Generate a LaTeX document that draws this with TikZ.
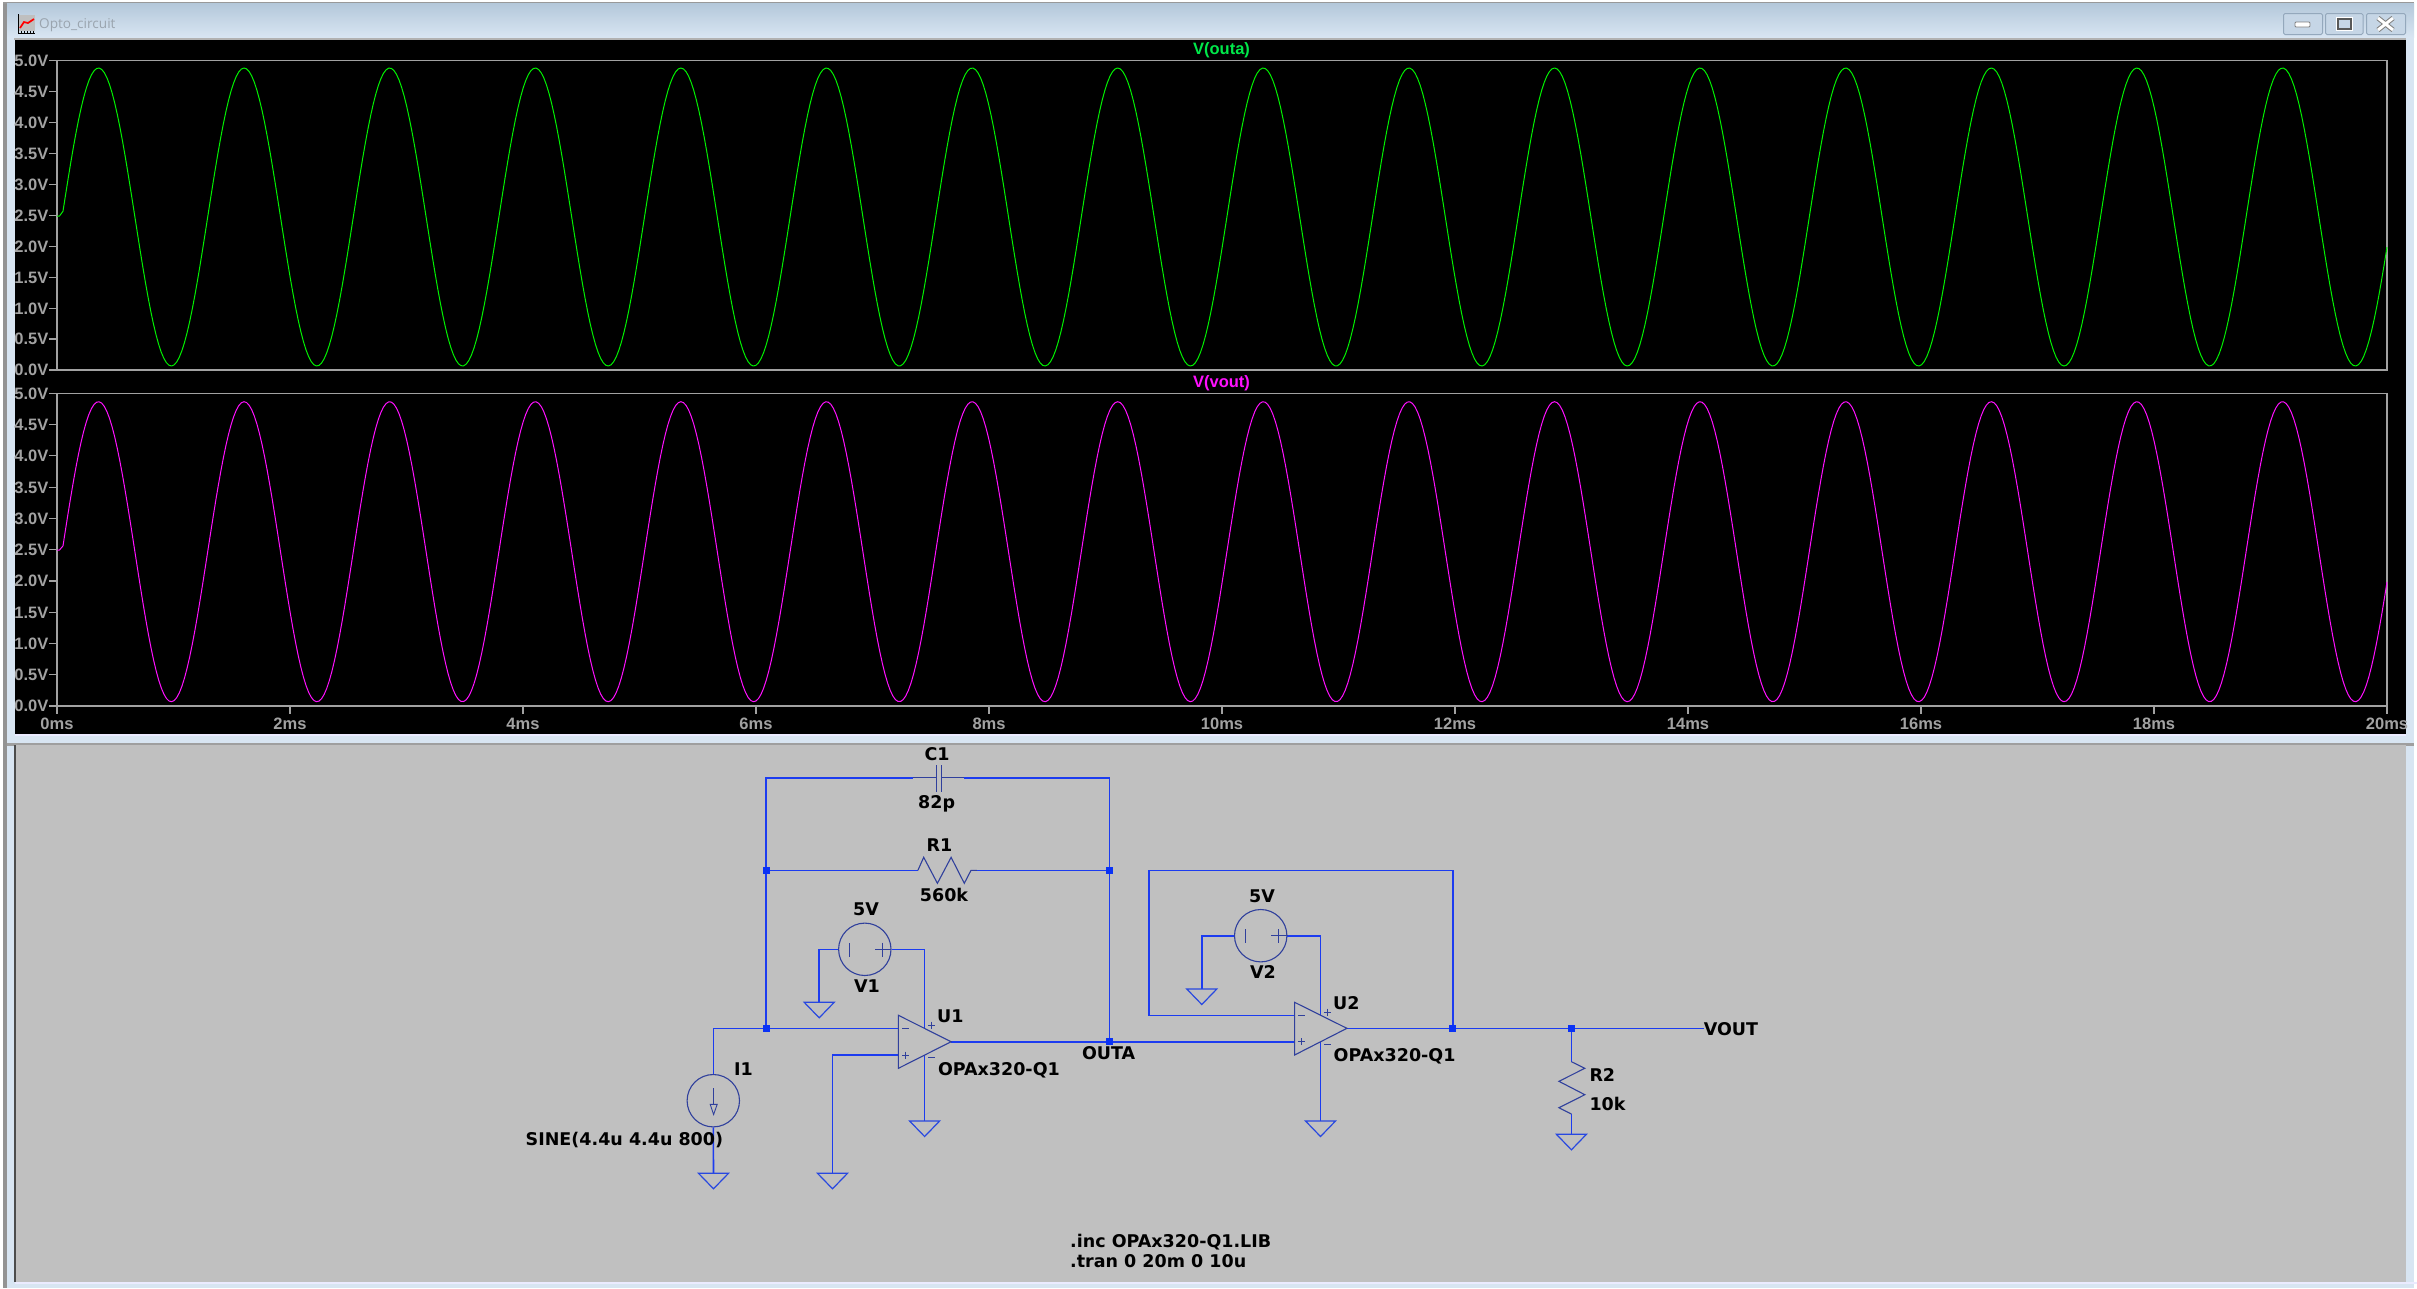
\documentclass[tikz,border=0pt]{standalone}
\usepackage{fontspec}
\setmainfont{DejaVu Sans}
\newfontfamily\axfont{Liberation Sans}
\newfontfamily\titlefont{Open Sans}
\usetikzlibrary{calc}
\definecolor{wirec}{HTML}{1C3CF0}
\definecolor{compc}{HTML}{30409C}
\definecolor{gndc}{HTML}{2848E0}
\definecolor{juncc}{HTML}{0A32F5}
\definecolor{bgc}{HTML}{C0C0C0}
\definecolor{framec}{HTML}{D8E5F2}
\definecolor{axisc}{HTML}{A2A2A2}
\definecolor{greenw}{HTML}{00F000}
\definecolor{magw}{HTML}{FF10FF}
\definecolor{titlec}{HTML}{B4C8DA}
\definecolor{btnfill}{HTML}{C6D6E6}
\definecolor{btnline}{HTML}{94A8BC}
\definecolor{titletext}{HTML}{9AA4AE}
\definecolor{greent}{HTML}{00E84A}
\tikzset{
  wire/.style={draw=wirec,line width=1.6pt},
  comp/.style={draw=compc,line width=1.1pt},
  gndsym/.style={draw=gndc,line width=1.2pt},
  jn/.style={fill=juncc,draw=none,minimum size=7pt,inner sep=0pt,rectangle},
  src/.style={comp,circle,minimum size=52.4pt,inner sep=0pt},
  lab/.style={inner sep=0pt,text height=12.8pt,text depth=0pt,font=\fontsize{17.5}{19}\selectfont\bfseries,text=black},
  axl/.style={inner sep=0pt,text height=11.8pt,text depth=0pt,font=\axfont\fontsize{16.5}{18}\selectfont\bfseries,text=axisc},
  axisline/.style={draw=axisc,line width=1.2pt},
  wave/.style={line width=1pt,line join=round},
  btn/.style={draw=btnline,fill=btnfill,rounded corners=1.5pt,line width=1pt},
}
\newcommand{\gndat}[1]{\draw[gndsym] ($(#1)+(-15,0)$) -- ($(#1)+(15,0)$) -- ($(#1)+(0,15.5)$) -- cycle;}
\newcommand{\markplus}[1]{\draw[comp,line width=0.9pt] ($(#1)+(-3.5,0)$) -- ($(#1)+(3.5,0)$) ($(#1)+(0,-3.5)$) -- ($(#1)+(0,3.5)$);}
\newcommand{\markminus}[1]{\draw[comp,line width=0.9pt] ($(#1)+(-3.5,0)$) -- ($(#1)+(3.5,0)$);}
\begin{document}
\begin{tikzpicture}[x=1pt,y=-1pt]
\useasboundingbox (0,0) rectangle (2417,1288);
% window chrome
\fill[white] (0,0) rectangle (2417,1288);
\fill[framec] (7,3) rectangle (2414,1288);
\fill[gray!85] (3,3) rectangle (7,1288);
\fill[gray!80] (3,2) rectangle (2414,3.5);
\shade[top color=titlec,bottom color=framec] (7,3.5) rectangle (2414,37);
\fill[black] (15,39) rectangle (2406,734);
\fill[white!92!blue] (15,734) rectangle (2406,736);
\fill[gray!75] (7,743) rectangle (2414,745.5);
\fill[bgc] (15,745) rectangle (2406,1282);
\fill[gray!60!black] (14,745) rectangle (16,1282);
\fill[white!92!blue] (15,1282) rectangle (2417,1284);
\fill[gray!60] (14,37.5) rectangle (2406,39.5);
% title
\fill[gray!50] (18,15) rectangle (35,31);
\draw[black,line width=1pt] (18,14) -- (18,33) -- (35,33);
\foreach \tk in {21,24,27,30,33} \draw[black,line width=0.8pt] (\tk,31) -- (\tk,33);
\draw[red,line width=1.7pt] (20,28) -- (24,22) -- (28,23) -- (34,19);
\node[inner sep=0pt,anchor=west,text=titletext,font=\titlefont\fontsize{13.6}{16}\selectfont] (wintitle) at (39,25) {Opto\_circuit};
% buttons
\draw[btn] (2283.5,13.5) rectangle (2322.5,34.5);
\draw[btn] (2325.5,13.5) rectangle (2363,34.5);
\draw[btn] (2366.5,13.5) rectangle (2405.5,34.5);
\draw[draw=gray,fill=white,line width=0.8pt,rounded corners=1pt] (2295,22) rectangle (2310,27);
\draw[draw=gray!70!black,line width=2pt] (2337.5,18.5) rectangle (2350.5,29);
\draw[white,line width=1pt] (2336,17) rectangle (2352,30.5);
\draw[gray,line width=5pt] (2378,18) -- (2393,30) (2393,18) -- (2378,30);
\draw[white,line width=3pt] (2378,18) -- (2393,30) (2393,18) -- (2378,30);
% plot frames
\draw[axisline] (57,60.7) rectangle (2387,370);
\draw[axisline] (57,393.3) rectangle (2387,706);
\foreach \n/\v in {0/5.0V,1/4.5V,2/4.0V,3/3.5V,4/3.0V,5/2.5V,6/2.0V,7/1.5V,8/1.0V,9/0.5V,10/0.0V}{
  \pgfmathsetmacro{\ya}{60.7+\n*30.93}
  \pgfmathsetmacro{\yb}{393.3+\n*31.27}
  \draw[axisline] (49,\ya) -- (57,\ya);
  \draw[axisline] (49,\yb) -- (57,\yb);
  \node[axl,anchor=east] (ya\n) at (48.5,\ya) {\v};
  \node[axl,anchor=east] (yb\n) at (48.5,\yb) {\v};
}
\foreach \n/\v in {0/0ms,1/2ms,2/4ms,3/6ms,4/8ms,5/10ms,6/12ms,7/14ms,8/16ms,9/18ms,10/20ms}{
  \pgfmathsetmacro{\xa}{57+\n*233}
  \draw[axisline] (\xa,706) -- (\xa,714);
  \node[axl] (xt\n) at (\xa,723.5) {\v};
}
\node[axl,text=greent] (titleA) at (1221.5,49) {V(outa)};
\node[axl,text=magw] (titleB) at (1221.5,382) {V(vout)};
% waveforms
\draw[wave,greenw] (57,216) -- (59.5,216) -- plot[domain=63:2387,samples=900] ({\x},{217-149*sin(2.47253*(\x-62.1))});
\draw[wave,magw] (57,550) -- (59.5,550) -- plot[domain=63:2387,samples=900] ({\x},{551.7-150*sin(2.47253*(\x-62.1))});
% ---------- schematic coordinates ----------
\node[jn] (jA) at (766.2,870.3) {};
\node[jn] (jB) at (766.2,1028.3) {};
\node[jn] (jC) at (1109.5,870.3) {};
\node[jn] (jD) at (1109.5,1041.7) {};
\node[jn] (jE) at (1452.7,1028.3) {};
\node[jn] (jF) at (1571.4,1028.3) {};
\coordinate (ctl) at (766.2,777.7);
\coordinate (ctr) at (1109.5,777.7);
\coordinate (cl) at (912.5,777.7);
\coordinate (cr) at (963.5,777.7);
\coordinate (pl) at (936.1,777.7);
\coordinate (pr) at (941.1,777.7);
\coordinate (rl) at (917.9,870.3);
\coordinate (rr) at (976.8,870.3);
% U1
\coordinate (u1a) at (898.4,1015.3);
\coordinate (u1b) at (898.4,1068.3);
\coordinate (u1o) at (951.1,1041.7);
\coordinate (u1m) at (898.4,1028.3);
\coordinate (u1p) at (898.4,1055);
\coordinate (u1t) at (924.6,1028.4);
\coordinate (u1d) at (924.6,1055);
\coordinate (g1) at (924.6,1121);
% U2
\coordinate (u2a) at (1294.6,1002.3);
\coordinate (u2b) at (1294.6,1055);
\coordinate (u2o) at (1346.9,1028.3);
\coordinate (u2m) at (1294.6,1015.3);
\coordinate (u2p) at (1294.6,1041.7);
\coordinate (u2t) at (1320.5,1015.2);
\coordinate (u2d) at (1320.5,1041.6);
\coordinate (g2) at (1320.5,1121);
% sources
\node[src] (V1) at (864.8,949.3) {};
\node[src] (V2) at (1260.7,935.7) {};
\node[src] (I1) at (713.3,1100.7) {};
\coordinate (gV1) at (819.2,1002.3);
\coordinate (gV2) at (1201.8,989);
\coordinate (gI1) at (713.5,1173.3);
\coordinate (gP1) at (832.5,1173.3);
\coordinate (gR2) at (1571.4,1134.3);
\coordinate (m2c) at (1149.1,1015.3);
\coordinate (fbt) at (1149.1,870.3);
\coordinate (fbr) at (1452.7,870.3);
\coordinate (voutend) at (1703.6,1028.3);
\coordinate (r2t) at (1571.4,1061.7);
\coordinate (r2b) at (1571.4,1114);
% ---------- wires ----------
\draw[wire] (jA) -- (ctl) -- (cl);
\draw[wire] (cr) -- (ctr) -- (jC);
\draw[wire] (jA) -- (jB);
\draw[wire] (jA) -- (rl);
\draw[wire] (rr) -- (jC);
\draw[wire] (jC) -- (jD);
\draw[wire] (I1.north) -- (I1.north |- jB) -- (jB);
\draw[wire] (jB) -- (u1m);
\draw[wire] (u1o) -- (jD) -- (u2p);
\draw[wire] (u1p) -| (gP1);
\draw[wire] (V1.west) -| (gV1);
\draw[wire] (V1.east) -| (u1t);
\draw[wire] (u1d) -- (g1);
\draw[wire] (I1.south) -- (gI1);
\draw[wire] (u2m) -- (m2c) -- (fbt) -- (fbr) -- (jE);
\draw[wire] (V2.west) -| (gV2);
\draw[wire] (V2.east) -| (u2t);
\draw[wire] (u2d) -- (g2);
\draw[wire] (u2o) -- (jE) -- (jF) -- (voutend);
\draw[wire] (jF) -- (r2t);
\draw[wire] (r2b) -- (gR2);
% grounds
\gndat{gV1}\gndat{gV2}\gndat{gI1}\gndat{gP1}\gndat{g1}\gndat{g2}\gndat{gR2}
% capacitor
\draw[comp] (cl) -- (pl) (pr) -- (cr);
\draw[comp] ($(pl)+(0,-12.7)$) -- ($(pl)+(0,14)$);
\draw[comp] ($(pr)+(0,-12.7)$) -- ($(pr)+(0,14)$);
% R1
\draw[comp] (rl) -- (923.7,857.3) -- (937.4,883.3) -- (951.1,857.3) -- (964.3,883.3) -- (971,870.3) -- (rr);
% R2
\draw[comp] (r2t) -- (1584.8,1068.3) -- (1558.9,1081.3) -- (1584.8,1094.7) -- (1558.9,1107.7) -- (r2b);
% op amps
\draw[comp] (u1a) -- (u1b) -- (u1o) -- cycle;
\draw[comp] (u2a) -- (u2b) -- (u2o) -- cycle;
\markminus{905.5,1028.3}\markplus{905.5,1055}\markplus{931.6,1025}\markminus{931.6,1057.7}
\markminus{1301.3,1015.3}\markplus{1301.3,1041.7}\markplus{1327.7,1012}\markminus{1327.7,1044.3}
% source marks
\draw[comp,line width=0.9pt] (849.5,943) -- (849.5,956.5) (875.2,949.3) -- (890.6,949.3) (882.3,942.5) -- (882.3,956.5);
\draw[comp,line width=0.9pt] (1245.5,929) -- (1245.5,942.5) (1271,935.7) -- (1288,935.7) (1278.3,929) -- (1278.3,942.5);
\draw[comp,line width=0.9pt] (713.5,1088.3) -- (713.5,1104.3);
\draw[comp,line width=0.9pt] (710.2,1104.3) -- (717.2,1104.3) -- (713.6,1114.5) -- cycle;
% labels
\node[lab] (tC1) at (937,754) {C1};
\node[lab] (t82p) at (936.6,802) {82p};
\node[lab] (tR1) at (939.5,845) {R1};
\node[lab] (t560k) at (944,895) {560k};
\node[lab] (t5V1) at (866,909) {5V};
\node[lab] (tV1) at (867,985.7) {V1};
\node[lab] (tU1) at (950.3,1015.7) {U1};
\node[lab,anchor=west] (tOP1) at (937.8,1068.8) {OPAx320-Q1};
\node[lab] (tOUTA) at (1108.6,1053.3) {OUTA};
\node[lab] (tI1) at (743.4,1068.7) {I1};
\node[lab] (tSINE) at (624.4,1139.5) {SINE(4.4u 4.4u 800)};
\node[lab] (t5V2) at (1262,895.7) {5V};
\node[lab] (tV2) at (1263,972.3) {V2};
\node[lab] (tU2) at (1346.4,1002.7) {U2};
\node[lab,anchor=west] (tOP2) at (1333.5,1055.3) {OPAx320-Q1};
\node[lab,anchor=west] (tVOUT) at (1703.6,1028.7) {VOUT};
\node[lab,anchor=west] (tR2) at (1589.3,1075) {R2};
\node[lab,anchor=west] (t10k) at (1589.3,1104.3) {10k};
\node[lab,anchor=west] (tinc) at (1070,1240.7) {.inc OPAx320-Q1.LIB};
\node[lab,anchor=west] (ttran) at (1070,1260.7) {.tran 0 20m 0 10u};
\end{tikzpicture}
\end{document}
